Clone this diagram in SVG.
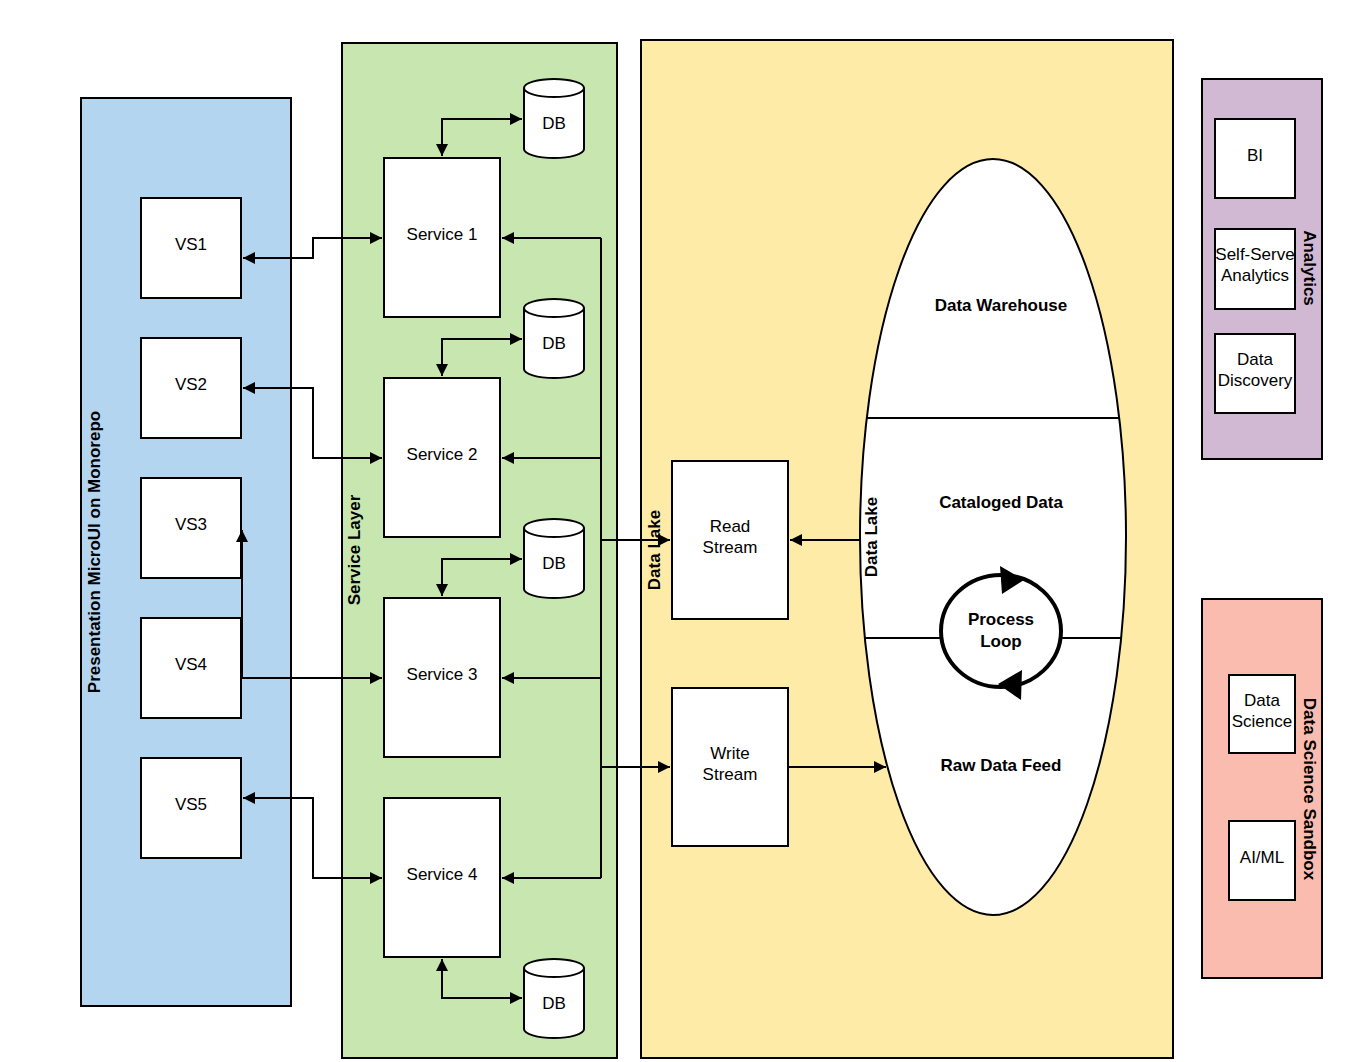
<svg xmlns="http://www.w3.org/2000/svg" width="1361" height="1062" viewBox="0 0 1361 1062">
<defs>
<marker id="a" viewBox="0 0 10 10" refX="10" refY="5" markerWidth="13" markerHeight="12" markerUnits="userSpaceOnUse" orient="auto-start-reverse"><path d="M0,0 L10,5 L0,10 z" fill="#000"/></marker>
<style>
.p{stroke:#000;stroke-width:2}
.n{fill:#fff;stroke:#000;stroke-width:2}
text{font-family:"Liberation Sans",Arial,sans-serif;font-size:17px;text-anchor:middle;dominant-baseline:middle;fill:#000}
.b{font-weight:bold;font-size:17px}
.c{fill:none;stroke:#000;stroke-width:2;marker-end:url(#a)}
.d{fill:none;stroke:#000;stroke-width:2;marker-end:url(#a);marker-start:url(#a)}
</style>
</defs>
<rect width="1361" height="1062" fill="#fff"/>
<g id="presentation"><rect class="p" x="81" y="98" width="210" height="908" fill="#b4d5f0"/><text class="b" transform="translate(96,552) rotate(-90)">Presentation MicroUI on Monorepo</text></g>
<g id="servicelayer"><rect class="p" x="342" y="43" width="275" height="1015" fill="#c8e7b0"/><text class="b" transform="translate(356,550) rotate(-90)">Service Layer</text></g>
<g id="datalake"><rect class="p" x="641" y="40" width="532" height="1018" fill="#feeba8"/><text class="b" transform="translate(656,550) rotate(-90)">Data Lake</text></g>
<g id="analytics"><rect class="p" x="1202" y="79" width="120" height="380" fill="#d2b9d3"/><text class="b" transform="translate(1308,268) rotate(90)">Analytics</text></g>
<g id="sandbox"><rect class="p" x="1202" y="599" width="120" height="379" fill="#fbbcb0"/><text class="b" transform="translate(1308,789) rotate(90)">Data Science Sandbox</text></g>
<g id="vs1"><rect class="n" x="141" y="198" width="100" height="100"/><text x="191" y="246">VS1</text></g>
<g id="vs2"><rect class="n" x="141" y="338" width="100" height="100"/><text x="191" y="386">VS2</text></g>
<g id="vs3"><rect class="n" x="141" y="478" width="100" height="100"/><text x="191" y="526">VS3</text></g>
<g id="vs4"><rect class="n" x="141" y="618" width="100" height="100"/><text x="191" y="666">VS4</text></g>
<g id="vs5"><rect class="n" x="141" y="758" width="100" height="100"/><text x="191" y="806">VS5</text></g>
<g id="s1"><rect class="n" x="384" y="158" width="116" height="159"/><text x="442" y="236">Service 1</text></g>
<g id="s2"><rect class="n" x="384" y="378" width="116" height="159"/><text x="442" y="456">Service 2</text></g>
<g id="s3"><rect class="n" x="384" y="598" width="116" height="159"/><text x="442" y="676">Service 3</text></g>
<g id="s4"><rect class="n" x="384" y="798" width="116" height="159"/><text x="442" y="876">Service 4</text></g>
<g id="db1"><path class="n" d="M524,88 A30,9 0 0 1 584,88 V149 A30,9 0 0 1 524,149 Z"/><path class="p" fill="none" d="M524,88 A30,9 0 0 0 584,88"/><text x="554" y="125">DB</text></g>
<g id="db2"><path class="n" d="M524,308 A30,9 0 0 1 584,308 V369 A30,9 0 0 1 524,369 Z"/><path class="p" fill="none" d="M524,308 A30,9 0 0 0 584,308"/><text x="554" y="345">DB</text></g>
<g id="db3"><path class="n" d="M524,528 A30,9 0 0 1 584,528 V589 A30,9 0 0 1 524,589 Z"/><path class="p" fill="none" d="M524,528 A30,9 0 0 0 584,528"/><text x="554" y="565">DB</text></g>
<g id="db4"><path class="n" d="M524,968 A30,9 0 0 1 584,968 V1029 A30,9 0 0 1 524,1029 Z"/><path class="p" fill="none" d="M524,968 A30,9 0 0 0 584,968"/><text x="554" y="1005">DB</text></g>
<g id="read"><rect class="n" x="672" y="461" width="116" height="158"/><text x="730" y="528">Read</text><text x="730" y="549">Stream</text></g>
<g id="write"><rect class="n" x="672" y="688" width="116" height="158"/><text x="730" y="755">Write</text><text x="730" y="776">Stream</text></g>
<g id="lake">
<ellipse class="n" cx="993" cy="537" rx="133" ry="378"/>
<line class="p" x1="867" y1="418" x2="1119" y2="418"/>
<line class="p" x1="865" y1="638" x2="942" y2="638"/><line class="p" x1="1061" y1="638" x2="1121" y2="638"/>
<text class="b" x="1001" y="307">Data Warehouse</text>
<text class="b" x="1001" y="504">Cataloged Data</text>
<text class="b" x="1001" y="767">Raw Data Feed</text>
<text class="b" transform="translate(873,537) rotate(-90)">Data Lake</text>
</g>
<g id="loop">
<ellipse cx="1001" cy="631" rx="60" ry="56" fill="#fff" stroke="#000" stroke-width="4"/>
<path d="M1000,566 L1024,580 L1002,594 Z" fill="#000"/>
<path d="M1022,670 L998,684 L1021,700 Z" fill="#000"/>
<text class="b" x="1001" y="621">Process</text><text class="b" x="1001" y="643">Loop</text>
</g>
<g id="bi"><rect class="n" x="1215" y="119" width="80" height="79"/><text x="1255" y="157">BI</text></g>
<g id="ssa"><rect class="n" x="1215" y="229" width="80" height="80"/><text x="1255" y="256">Self-Serve</text><text x="1255" y="277">Analytics</text></g>
<g id="dd"><rect class="n" x="1215" y="334" width="80" height="79"/><text x="1255" y="361">Data</text><text x="1255" y="382">Discovery</text></g>
<g id="ds"><rect class="n" x="1229" y="675" width="66" height="78"/><text x="1262" y="702">Data</text><text x="1262" y="723">Science</text></g>
<g id="aiml"><rect class="n" x="1229" y="821" width="66" height="79"/><text x="1262" y="859">AI/ML</text></g>
<g id="connectors">
<path class="d" d="M243,258 H313 V238 H382"/>
<path class="d" d="M243,388 H313 V458 H382"/>
<path class="c" d="M242,678 H382"/>
<path class="c" d="M242,678 V530"/>
<path class="d" d="M243,798 H313 V878 H382"/>
<path class="d" d="M442,156 V119 H522"/>
<path class="d" d="M442,376 V339 H522"/>
<path class="d" d="M442,596 V559 H522"/>
<path class="d" d="M442,959 V998 H522"/>
<path fill="none" stroke="#000" stroke-width="2" d="M601,238 V878"/>
<path class="c" d="M601,238 H502"/>
<path class="c" d="M601,458 H502"/>
<path class="c" d="M601,678 H502"/>
<path class="c" d="M601,878 H502"/>
<path class="c" d="M601,540 H670"/>
<path class="c" d="M601,767 H670"/>
<path class="c" d="M860,540 H790"/>
<path class="c" d="M788,767 H886"/>
</g>
</svg>
